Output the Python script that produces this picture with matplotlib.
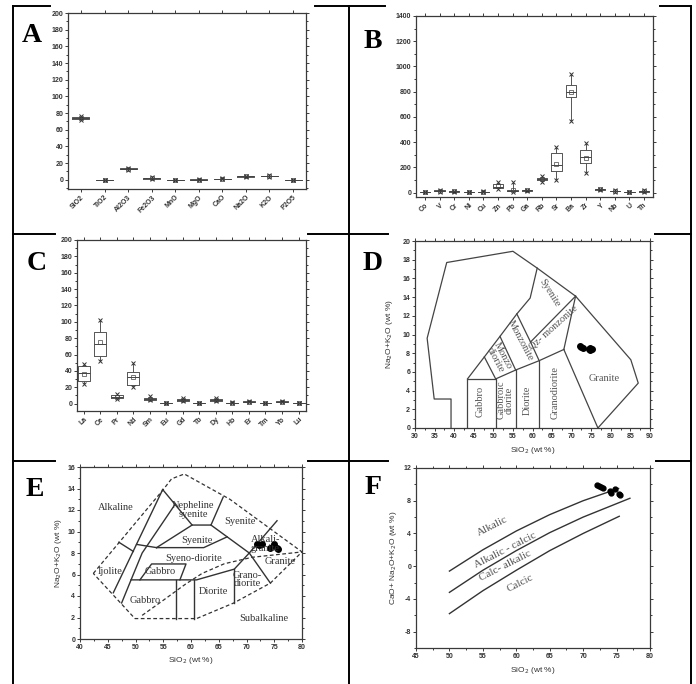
import numpy as np
import matplotlib.pyplot as plt
from matplotlib.lines import Line2D
from matplotlib.ticker import MultipleLocator, AutoMinorLocator

plt.rcParams['axes.unicode_minus'] = False

W, H = 696, 684
fig = plt.figure(figsize=(W / 100, H / 100), dpi=100)
fig.patch.set_facecolor('white')

SERIF = 'Liberation Serif'
SANS = 'Liberation Sans'
LINE = '#3a3a3a'

# ---------- A : major oxides (wt %) ----------
oxides = ['SiO2', 'TiO2', 'Al2O3', 'Fe2O3', 'MnO', 'MgO', 'CaO', 'Na2O', 'K2O', 'P2O5']
ox_min = [71.5, 0.05, 12.0, 1.0, 0.02, 0.1, 0.4, 3.4, 3.8, 0.01]
ox_q1 = [73.0, 0.10, 12.8, 1.5, 0.03, 0.2, 0.6, 3.8, 4.2, 0.03]
ox_med = [74.0, 0.15, 13.2, 2.0, 0.04, 0.3, 0.8, 4.1, 4.5, 0.05]
ox_q3 = [75.0, 0.20, 13.6, 2.5, 0.05, 0.4, 1.0, 4.4, 4.8, 0.07]
ox_max = [76.5, 0.30, 14.5, 3.2, 0.08, 0.7, 1.6, 4.8, 5.2, 0.10]
ox_mean = [74.0, 0.15, 13.2, 2.0, 0.04, 0.3, 0.85, 4.1, 4.5, 0.05]

# ---------- B : trace elements (ppm) ----------
trace = ['Co', 'V', 'Cr', 'Ni', 'Cu', 'Zn', 'Pb', 'Ga', 'Rb', 'Sr', 'Ba', 'Zr', 'Y', 'Nb', 'U', 'Th']
tr_min = [1, 8, 5, 1, 2, 25, 8, 12, 85, 100, 570, 155, 18, 8, 1, 5]
tr_q1 = [1.5, 12, 8, 2, 4, 35, 12, 15, 98, 170, 760, 232, 22, 10, 2, 8]
tr_med = [2, 15, 10, 3, 5, 48, 14, 17, 105, 215, 800, 280, 25, 12, 3, 11]
tr_q3 = [3, 18, 12, 4, 7, 65, 18, 19, 115, 310, 850, 340, 28, 14, 4, 14]
tr_max = [4, 22, 16, 6, 10, 80, 85, 22, 130, 360, 940, 390, 32, 17, 5, 18]
tr_mean = [2, 15, 10, 3, 5, 50, 20, 17, 108, 230, 795, 272, 25, 12, 3, 11]

# ---------- C : rare earth elements (ppm) ----------
ree = ['La', 'Ce', 'Pr', 'Nd', 'Sm', 'Eu', 'Gd', 'Tb', 'Dy', 'Ho', 'Er', 'Tm', 'Yb', 'Lu']
ree_min = [24, 52, 6, 20, 4, 0.4, 3, 0.4, 3, 0.6, 1.5, 0.2, 1.5, 0.2]
ree_q1 = [28, 58, 7, 23, 5, 0.6, 3.8, 0.6, 3.5, 0.8, 2.0, 0.3, 2.0, 0.3]
ree_med = [37, 73, 8.5, 33, 6, 0.8, 4.5, 0.7, 4.3, 1.0, 2.5, 0.4, 2.5, 0.4]
ree_q3 = [46, 87, 10, 39, 7, 1.0, 5.5, 0.8, 5.2, 1.2, 3.0, 0.5, 3.0, 0.5]
ree_max = [48, 102, 12, 50, 9, 1.3, 7, 1.0, 6.5, 1.5, 3.8, 0.6, 3.8, 0.6]
ree_mean = [36, 75, 8.5, 32, 6, 0.8, 4.6, 0.7, 4.3, 1.0, 2.5, 0.4, 2.5, 0.4]

# ---------- samples ----------
tas_sio2 = [72.0, 72.4, 72.8, 74.3, 74.8, 75.2, 74.6]
tas_alk = [8.8, 8.7, 8.6, 8.5, 8.6, 8.4, 8.3]
cox_sio2 = [71.9, 72.2, 72.8, 74.2, 74.9, 75.5, 75.7]
cox_alk = [8.8, 8.7, 8.8, 8.5, 8.8, 8.5, 8.4]
mali_sio2 = [72.0, 72.3, 72.6, 72.9, 74.0, 74.2, 74.7, 75.3, 75.5]
mali_val = [9.9, 9.8, 9.7, 9.6, 9.2, 8.9, 9.4, 8.8, 8.7]

# ---------- D : TAS (plutonic) field boundaries ----------
d_outer = ([39.2, 39.2, 34.9, 33.1, 38.1, 55.0, 61.2, 71.0, 85.1, 87.0, 76.7],
           [0, 3.1, 3.1, 9.6, 17.7, 18.9, 17.1, 14.1, 7.3, 4.8, 0])
d_lines = [
    ([43.4, 43.4, 50.6, 50.6], [0, 5.25, 5.25, 0]),
    ([55.7, 55.7], [0, 6.2]),
    ([61.7, 61.7], [0, 7.2]),
    ([50.6, 55.7, 61.7, 68.0], [5.25, 6.2, 7.2, 8.4]),
    ([68.0, 76.7], [8.4, 0]),
    ([68.0, 71.0], [8.4, 14.1]),
    ([59.5, 71.0], [9.2, 14.1]),
    ([59.5, 61.7], [9.2, 7.2]),
    ([56.0, 59.5], [12.2, 9.2]),
    ([43.4, 47.7, 51.7, 56.0, 59.4, 61.2], [5.25, 7.6, 9.8, 12.2, 13.9, 17.1]),
    ([50.6, 47.7], [5.25, 7.6]),
    ([51.7, 55.7], [9.8, 6.2]),
]
d_labels = [('Gabbro', 46.6, 2.8, 90), ('Gabbroic\ndiorite', 53.0, 3.0, 90),
            ('Diorite', 58.6, 3.0, 90), ('Granodiorite', 65.9, 3.8, 90),
            ('Granite', 78.3, 5.3, 0), ('Syenite', 64.4, 14.5, -58),
            ('Qz- monzonite', 65.2, 10.8, 42), ('Monzonite', 57.0, 9.3, -62),
            ('Monzo\ndiorite', 51.4, 7.5, -62)]

# ---------- E : Cox et al. / Wilson plutonic boundaries ----------
e_outer = ([42.4, 55.0, 56.5, 58.8, 67.0, 80.0, 74.3, 67.7, 61.0, 49.9, 42.4],
           [6.1, 13.9, 14.9, 15.35, 13.0, 8.1, 5.2, 3.35, 1.9, 1.9, 6.1])
e_divider = ([51.2, 55.0, 59.0, 62.0, 66.0, 71.0, 80.0],
             [2.2, 3.6, 5.1, 6.1, 7.0, 7.6, 8.1])
e_lines = [
    ([47.0, 49.6], [9.0, 8.15]),
    ([46.0, 54.9], [4.3, 13.9]),
    ([54.9, 60.2, 63.6, 65.8], [13.9, 10.6, 10.6, 13.2]),
    ([47.5, 49.2, 51.2, 57.1], [3.35, 5.5, 8.0, 12.5]),
    ([50.2, 53.8], [8.8, 8.5]),
    ([53.8, 60.2], [8.5, 10.6]),
    ([53.8, 62.3, 66.5], [8.5, 8.5, 9.5]),
    ([63.6, 70.5, 74.3], [10.6, 8.0, 5.2]),
    ([75.5, 70.5], [11.0, 8.0]),
    ([50.8, 52.9, 59.1, 58.0], [5.5, 6.98, 6.98, 5.5]),
    ([49.2, 61.0, 67.8, 70.5], [5.5, 5.5, 6.5, 8.0]),
    ([57.3, 57.3], [5.5, 1.9]),
    ([60.5, 60.5], [5.5, 1.9]),
    ([67.8, 67.8], [6.5, 3.35]),
]
e_labels = [('Alkaline', 46.5, 12.2), ('Nepheline\nsyenite', 60.4, 12.0),
            ('Syenite', 68.9, 10.95), ('Syenite', 61.0, 9.2),
            ('Syeno-diorite', 60.4, 7.5), ('Ijolite', 45.4, 6.3),
            ('Gabbro', 54.4, 6.3), ('Gabbro', 51.7, 3.6), ('Diorite', 64.0, 4.4),
            ('Grano-\ndiorite', 70.1, 5.55), ('Alkali-\ngranite', 73.4, 8.85),
            ('Granite', 76.1, 7.2), ('Subalkaline', 73.1, 1.95)]

# ---------- F : MALI boundaries ----------
mali_x1 = [50, 55, 60, 65, 70, 75.3]
mali_y1 = [-0.6, 2.0, 4.3, 6.3, 8.0, 9.5]
mali_x2 = [50, 55, 60, 65, 70, 77]
mali_y2 = [-3.2, -0.5, 1.9, 4.1, 6.0, 8.3]
mali_x3 = [50, 55, 60, 65, 70, 75.4]
mali_y3 = [-5.8, -3.0, -0.5, 1.9, 4.0, 6.1]
f_labels = [('Alkalic', 56.4, 4.9), ('Alkalic - calcic', 58.4, 2.0),
            ('Calc- alkalic', 58.4, 0.1), ('Calcic', 60.6, -2.1)]


def px_axes(l, t, r, b):
    return fig.add_axes([l / W, 1 - b / H, (r - l) / W, (b - t) / H])


def style(ax):
    for s in ax.spines.values():
        s.set_color(LINE)
        s.set_linewidth(0.9)
    ax.tick_params(which='both', colors=LINE, labelsize=5, width=0.7,
                   top=True, right=True)
    ax.tick_params(which='major', length=2.5)
    ax.tick_params(which='minor', length=1.5)
    for lab in ax.get_xticklabels() + ax.get_yticklabels():
        lab.set_fontweight('bold')
        lab.set_family(SANS)
        lab.set_color('#333333')


def boxes(ax, names, lo, q1, med, q3, hi, mean, ymin, ymax, ystep):
    stats = []
    for i in range(len(names)):
        stats.append(dict(med=med[i], q1=q1[i], q3=q3[i], whislo=lo[i],
                          whishi=hi[i], mean=mean[i], fliers=[lo[i], hi[i]]))
    pos = np.arange(1, len(names) + 1)
    ax.bxp(stats, positions=pos, widths=0.72, showmeans=True, showcaps=False,
           boxprops=dict(color='#555555', lw=0.7),
           whiskerprops=dict(color='#555555', lw=0.7),
           medianprops=dict(color='#444444', lw=0.7),
           meanprops=dict(marker='s', markersize=2.2, markerfacecolor='none',
                          markeredgecolor='#444444', markeredgewidth=0.5),
           flierprops=dict(marker='x', markersize=2.5, markeredgecolor='#333333',
                           markeredgewidth=0.7))
    ax.set_xticks(pos)
    ax.set_xticklabels(names, rotation=45, ha='right', rotation_mode='anchor')
    ax.set_ylim(ymin, ymax)
    ax.yaxis.set_major_locator(MultipleLocator(ystep))
    ax.yaxis.set_minor_locator(AutoMinorLocator(2))
    ax.tick_params(axis='x', which='major', direction='out', bottom=True, top=True)
    ax.tick_params(axis='y', which='both', direction='out')
    style(ax)
    ax.tick_params(axis='x', pad=1)
    ax.tick_params(axis='y', pad=1)


axA = px_axes(68, 13, 306, 189)
boxes(axA, oxides, ox_min, ox_q1, ox_med, ox_q3, ox_max, ox_mean, -11, 200, 20)
axA.set_xlim(0.45, 10.55)

axB = px_axes(416, 16, 653, 197)
boxes(axB, trace, tr_min, tr_q1, tr_med, tr_q3, tr_max, tr_mean, -35, 1400, 200)
axB.set_xlim(0.38, 16.62)

axC = px_axes(77, 240, 306, 411)
boxes(axC, ree, ree_min, ree_q1, ree_med, ree_q3, ree_max, ree_mean, -9, 200, 20)
axC.set_xlim(0.6, 14.45)

# ---------- D ----------
axD = px_axes(415, 241, 650, 428)
axD.plot(*d_outer, color='#444444', lw=0.9)
for xs, ys in d_lines:
    axD.plot(xs, ys, color='#444444', lw=0.9)
for txt, x, y, r in d_labels:
    axD.text(x, y, txt, rotation=r, ha='center', va='center', family=SERIF,
             fontsize=7.5, color='#555555', linespacing=0.9)
axD.plot(tas_sio2, tas_alk, 'o', color='black', markersize=4)
axD.set_xlim(30, 90)
axD.set_ylim(0, 20)
axD.xaxis.set_major_locator(MultipleLocator(5))
axD.xaxis.set_minor_locator(AutoMinorLocator(2))
axD.yaxis.set_major_locator(MultipleLocator(2))
axD.yaxis.set_minor_locator(AutoMinorLocator(2))
axD.tick_params(which='both', direction='out')
style(axD)
axD.tick_params(pad=1)
axD.set_xlabel('SiO$_2$ (wt %)', family=SANS, fontsize=6, color='#333333', labelpad=4)
axD.set_ylabel('Na$_2$O+K$_2$O (wt %)', family=SANS, fontsize=6, color='#333333', labelpad=5)

# ---------- E ----------
axE = px_axes(80, 467, 302, 639)
axE.plot(*e_outer, color='#333333', lw=0.9, ls=(0, (3, 2)))
axE.plot(*e_divider, color='#333333', lw=0.9, ls=(0, (3, 2)))
for xs, ys in e_lines:
    axE.plot(xs, ys, color='#333333', lw=1.0)
for txt, x, y in e_labels:
    axE.text(x, y, txt, ha='center', va='center', family=SERIF, fontsize=7.5,
             color='#333333', linespacing=0.9)
axE.plot(cox_sio2, cox_alk, 'o', color='black', markersize=4)
axE.set_xlim(40, 80)
axE.set_ylim(0, 16)
axE.xaxis.set_major_locator(MultipleLocator(5))
axE.xaxis.set_minor_locator(AutoMinorLocator(2))
axE.yaxis.set_major_locator(MultipleLocator(2))
axE.yaxis.set_minor_locator(AutoMinorLocator(2))
axE.tick_params(which='both', direction='out')
style(axE)
axE.tick_params(pad=1)
axE.set_xlabel('SiO$_2$ (wt %)', family=SANS, fontsize=6, color='#333333', labelpad=3)
axE.set_ylabel('Na$_2$O+K$_2$O (wt %)', family=SANS, fontsize=6, color='#333333', labelpad=2)

# ---------- F ----------
axF = px_axes(416, 468, 650, 648)
for xs, ys in [(mali_x1, mali_y1), (mali_x2, mali_y2), (mali_x3, mali_y3)]:
    axF.plot(xs, ys, color='#333333', lw=1.0)
for txt, x, y in f_labels:
    axF.text(x, y, txt, rotation=27, ha='center', va='center', family=SERIF,
             fontsize=8, color='#555555')
axF.plot(mali_sio2, mali_val, 'o', color='black', markersize=3.5)
axF.set_xlim(45, 80)
axF.set_ylim(-10, 12)
axF.xaxis.set_major_locator(MultipleLocator(5))
axF.xaxis.set_minor_locator(AutoMinorLocator(2))
axF.set_yticks([-8, -4, 0, 4, 8, 12])
axF.yaxis.set_minor_locator(AutoMinorLocator(2))
axF.tick_params(which='both', direction='out')
style(axF)
axF.tick_params(pad=1)
axF.set_xlabel('SiO$_2$ (wt %)', family=SANS, fontsize=6, color='#333333', labelpad=4)
axF.set_ylabel('CaO+ Na$_2$O+K$_2$O (wt %)', family=SANS, fontsize=6, color='#333333', labelpad=3)

# ---------- panel letters ----------
for letter, x, y in [('A', 32, 36), ('B', 373, 41), ('C', 37, 263),
                     ('D', 373, 263), ('E', 35, 489), ('F', 373, 487)]:
    fig.text(x / W, 1 - y / H, letter, family=SERIF, fontweight='bold',
             fontsize=20, ha='center', va='center')

# ---------- table rules (pixel coords) ----------
rules = [
    ((13, 13), (6, 684)), ((349, 349), (6, 684)), ((691, 691), (6, 684)),
    ((13, 50), (6, 6)), ((315, 385), (6, 6)), ((660, 691), (6, 6)),
    ((13, 55), (234, 234)), ((308, 388), (234, 234)), ((655, 691), (234, 234)),
    ((13, 55), (461, 461)), ((308, 388), (461, 461)), ((656, 691), (461, 461)),
]
for xs, ys in rules:
    fig.add_artist(Line2D([x / W for x in xs], [1 - y / H for y in ys],
                          color='black', lw=1.4))

fig.savefig('out.png', dpi=100)
